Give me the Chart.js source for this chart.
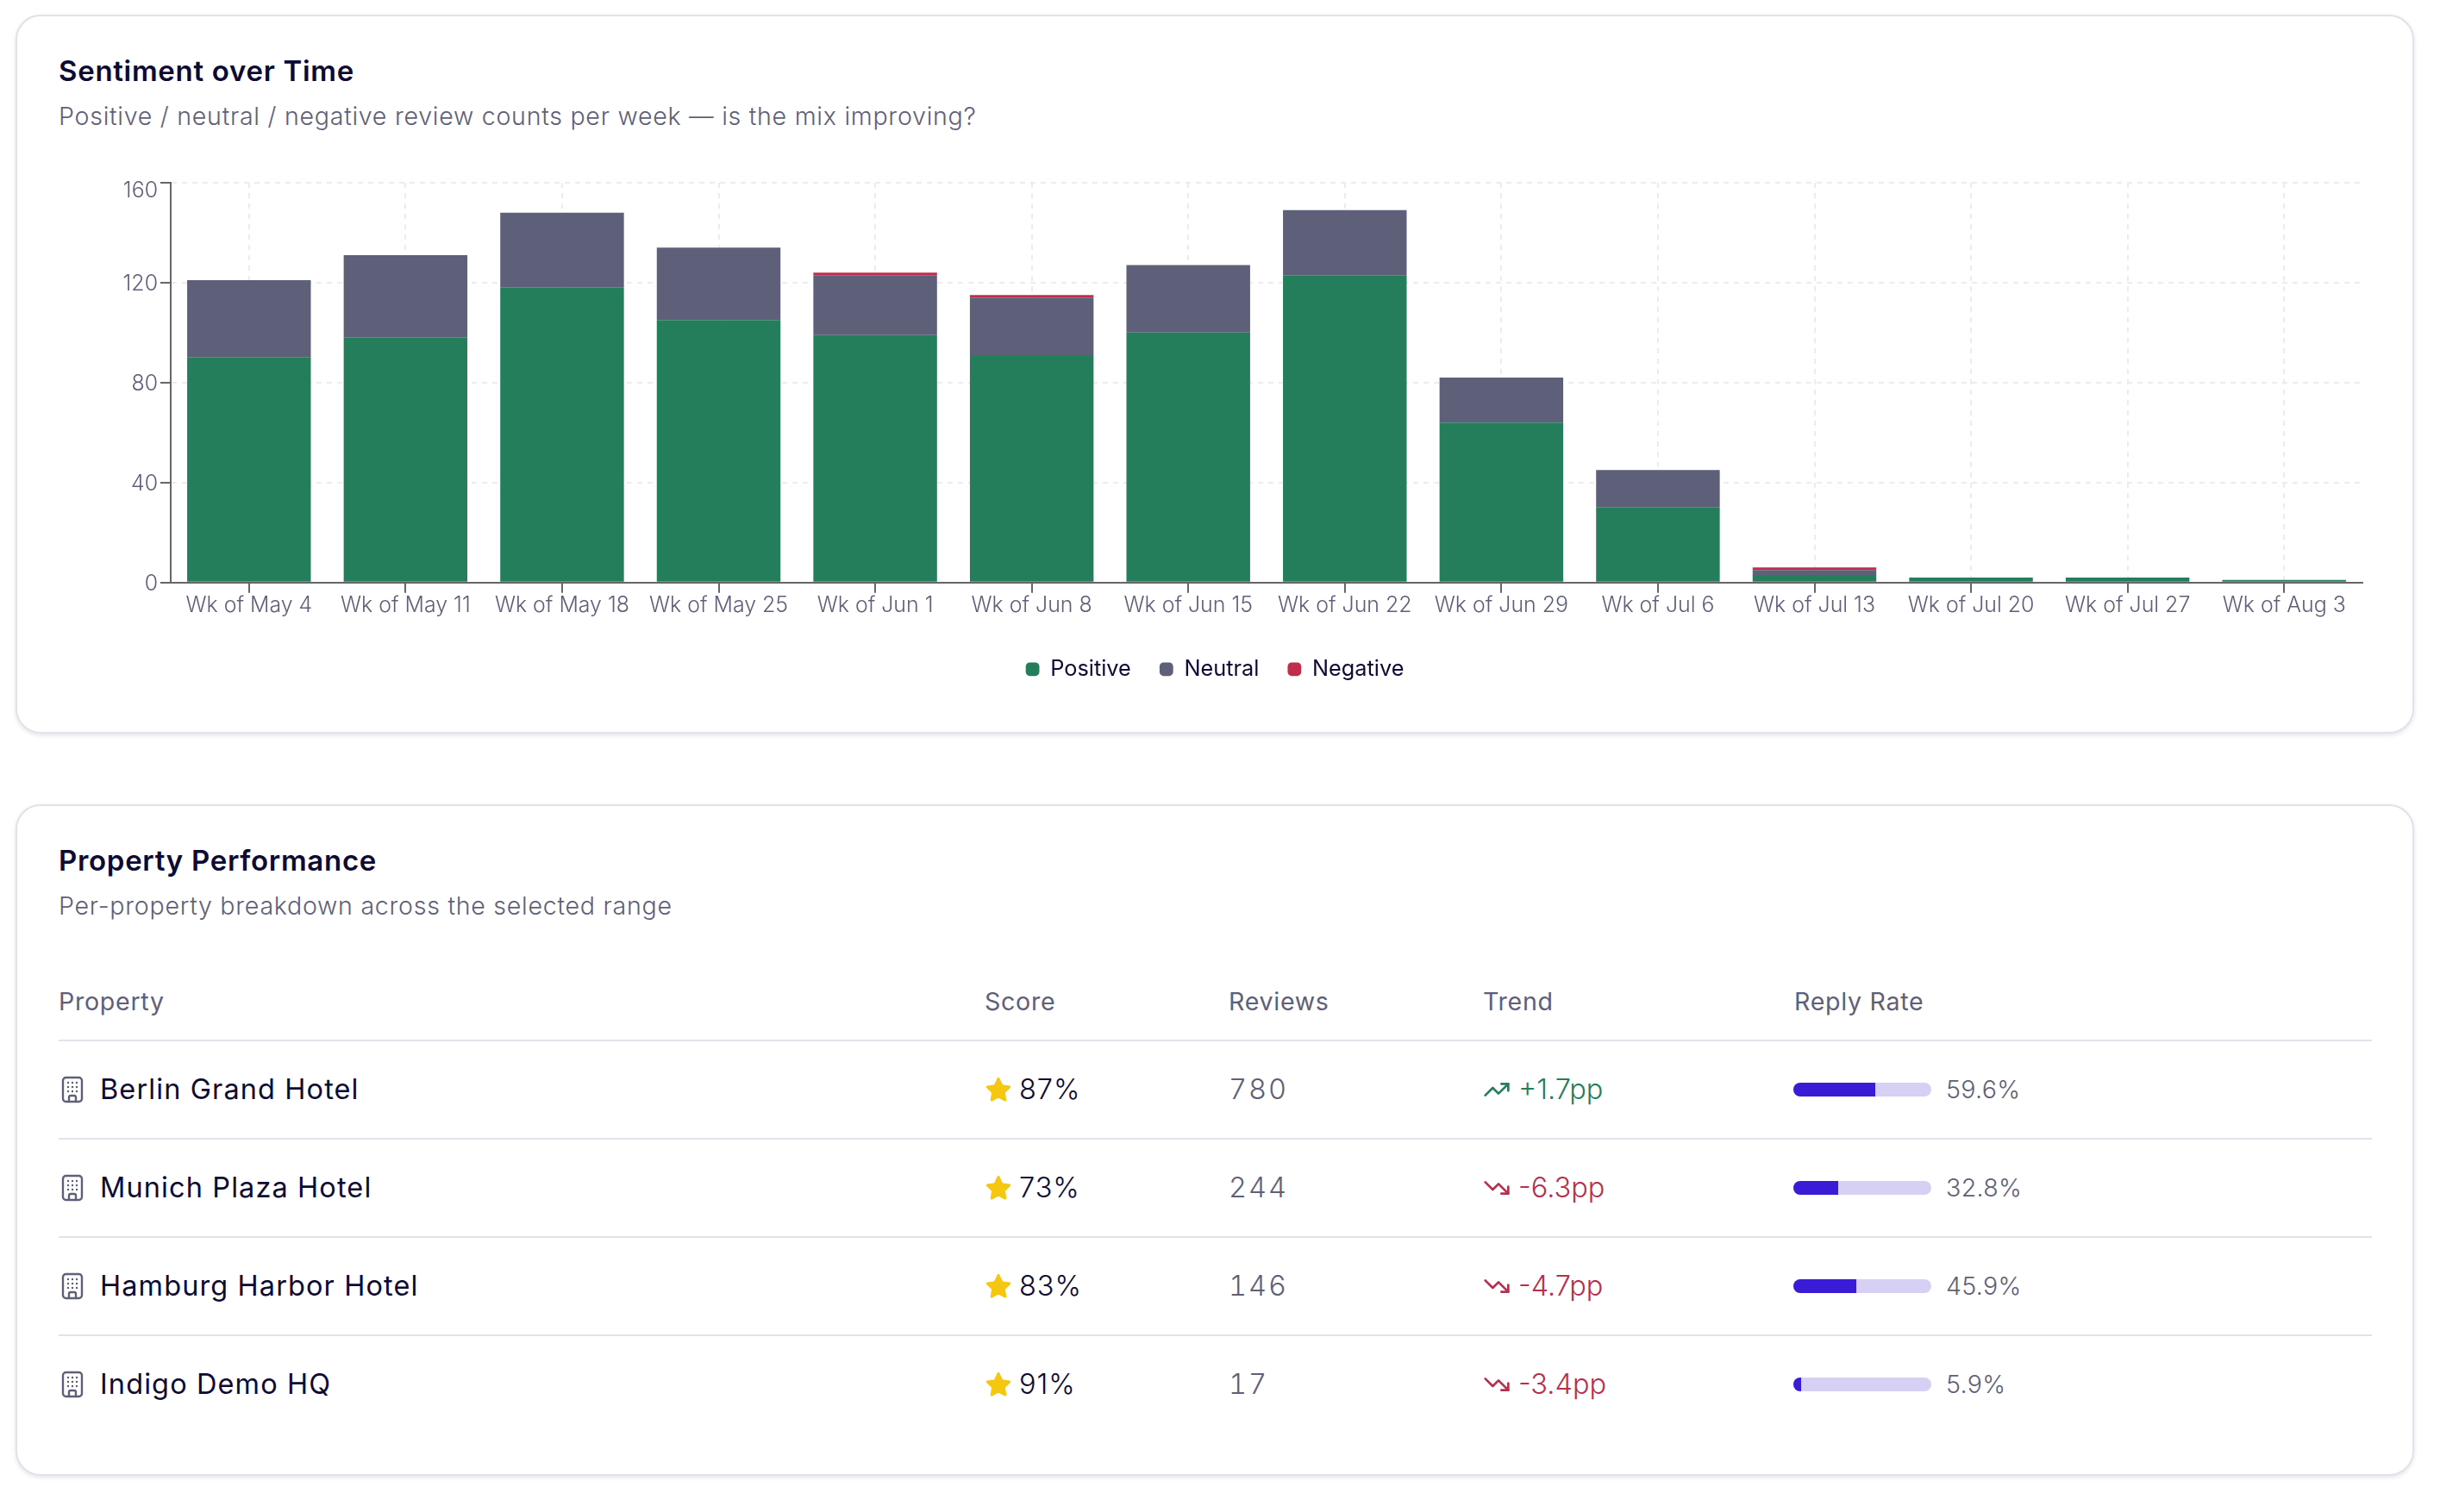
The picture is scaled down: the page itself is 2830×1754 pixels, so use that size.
<!doctype html>
<html>
<head>
<meta charset="UTF-8" />
<script src="https://cdn.jsdelivr.net/npm/chart.js"></script>
<style>
  * { box-sizing: border-box; }
  html, body { margin: 0; background: #fff; }
  body { position: relative; width: 2830px; height: 1754px; overflow: hidden; font-family: Inter, sans-serif; color: #0d0b33; }
  .card { position: absolute; left: 18px; width: 2782px; background: #fff; border: 2px solid #e3e2ea; border-radius: 29px; box-shadow: 0 2px 5px rgba(30,30,70,.12); }
  .abs { position: absolute; white-space: nowrap; line-height: 1; transform: translateY(-50%); }
  .title { left: 68px; font-size: 33px; font-weight: 600; letter-spacing: .7px; }
  .sub { left: 68px; font-size: 28.6px; font-weight: 300; color: #5e6079; letter-spacing: .72px; }
  .head { font-size: 28.6px; font-weight: 400; color: #5e6079; letter-spacing: .7px; }
  .name { font-size: 32.5px; font-weight: 400; letter-spacing: 1.1px; }
  .score { font-size: 32.5px; font-weight: 300; letter-spacing: 1px; }
  .count { font-size: 32.5px; font-weight: 300; color: #5e6079; letter-spacing: 2px; font-variant-numeric: tabular-nums; }
  .trend { font-size: 32.5px; font-weight: 300; }
  .rate { font-size: 28.6px; font-weight: 300; color: #5e6079; letter-spacing: .3px; }
  .rule { position: absolute; left: 68px; width: 2683px; height: 2px; background: #e3e2ea; }
  .track { position: absolute; left: 2080px; width: 160px; height: 16px; border-radius: 8px; background: #d6d0f5; overflow: hidden; }
  .fill { height: 100%; background: #3a1cd6; }
  svg.ico { position: absolute; }
  #chart { position: absolute; left: 68px; top: 194px; }
</style>
</head>
<body>
<div class="card" style="top:17px;height:834px"></div>
<div class="card" style="top:933px;height:779px"></div>

<div class="abs title" style="top:82px">Sentiment over Time</div>
<div class="abs sub" style="top:135px">Positive / neutral / negative review counts per week — is the mix improving?</div>
<canvas id="chart" width="2683" height="605"></canvas>

<div class="abs title" style="top:998px">Property Performance</div>
<div class="abs sub" style="top:1051px">Per-property breakdown across the selected range</div>
<div id="table"></div>

<script>
const weeks = ["Wk of May 4", "Wk of May 11", "Wk of May 18", "Wk of May 25", "Wk of Jun 1", "Wk of Jun 8", "Wk of Jun 15", "Wk of Jun 22", "Wk of Jun 29", "Wk of Jul 6", "Wk of Jul 13", "Wk of Jul 20", "Wk of Jul 27", "Wk of Aug 3"];
const positive = [90, 98, 118, 105, 99, 91, 100, 123, 64, 30, 3, 2, 2, 1];
const neutral = [31, 33, 30, 29, 24, 23, 27, 26, 18, 15, 2, 0, 0, 0];
const negative = [0, 0, 0, 0, 1, 1, 0, 0, 0, 0, 1, 0, 0, 0];
const yTicks = [0, 40, 80, 120, 160];

const properties = ["Berlin Grand Hotel", "Munich Plaza Hotel", "Hamburg Harbor Hotel", "Indigo Demo HQ"];
const scores = [87, 73, 83, 91];
const reviews = [780, 244, 146, 17];
const trends = [1.7, -6.3, -4.7, -3.4];
const replyRates = [59.6, 32.8, 45.9, 5.9];
const headers = ["Property", "Score", "Reviews", "Trend", "Reply Rate"];

const GREEN = "#257e5b", SLATE = "#5e6079", RED = "#c02d4d", INK = "#0d0b33", AXIS = "#666666", GRID = "#ececf0";
const FONT = "Inter, sans-serif";
const DASH = [6, 6];

// y labels sit a little under their ticks in the reference, the top one most
const nudgeLabels = {
    id: "nudgeLabels",
    beforeDraw(chart) {
        chart.scales.y.getLabelItems().forEach((it) => {
            if (!it.nudged) {
                it.options.translation[1] += it.label === "160" ? 10 : 2;
                it.nudged = true;
            }
        });
    },
};

new Chart(document.getElementById("chart"), {
    type: "bar",
    data: {
        labels: weeks,
        datasets: [
            { label: "Positive", data: positive, backgroundColor: GREEN, borderWidth: 0 },
            { label: "Neutral", data: neutral, backgroundColor: SLATE, borderWidth: 0 },
            { label: "Negative", data: negative, backgroundColor: RED, borderWidth: 0 },
        ],
    },
    options: {
        responsive: false,
        animation: false,
        devicePixelRatio: 1,
        layout: { padding: { top: 15, right: 11, left: 10, bottom: 0 } },
        categoryPercentage: 1,
        barPercentage: 0.79,
        plugins: {
            tooltip: { enabled: false },
            legend: {
                position: "bottom",
                labels: {
                    usePointStyle: true,
                    pointStyle: "rectRounded",
                    boxWidth: 16,
                    boxHeight: 13,
                    padding: 33,
                    color: INK,
                    font: { family: FONT, size: 25.3, weight: "400" },
                },
            },
        },
        scales: {
            x: {
                stacked: true,
                grid: { offset: false, color: GRID, lineWidth: 2, tickColor: AXIS, tickLength: 12, tickWidth: 2 },
                border: { color: AXIS, width: 2, dash: DASH },
                ticks: { color: SLATE, padding: 0, maxRotation: 0, autoSkip: false, font: { family: FONT, size: 24.9, weight: "300" } },
                afterFit: (s) => { s.height = 55; },
            },
            y: {
                stacked: true,
                min: 0,
                max: 160,
                afterBuildTicks: (s) => { s.ticks = yTicks.map((v) => ({ value: v })); },
                grid: { color: GRID, lineWidth: 2, tickColor: AXIS, tickLength: 12, tickWidth: 2 },
                border: { color: AXIS, width: 2, dash: DASH },
                ticks: { color: SLATE, padding: 3, font: { family: FONT, size: 24.9, weight: "300" } },
                afterFit: (s) => { s.width = 120; },
            },
            // only there for the dashed line along the right edge of the plot
            edge: {
                type: "linear",
                axis: "x",
                position: "top",
                min: 0,
                max: 1,
                afterBuildTicks: (s) => { s.ticks = [{ value: 1 }]; },
                grid: { color: GRID, lineWidth: 2, drawTicks: false },
                border: { display: false, dash: DASH },
                ticks: { display: false },
                afterFit: (s) => { s.height = 0; },
            },
        },
    },
    plugins: [nudgeLabels],
});

// table
const table = document.getElementById("table");
const colX = [68, 1142, 1425, 1720, 2081];
const rowY = [1264, 1378, 1492, 1606];

function add(html) {
    table.insertAdjacentHTML("beforeend", html);
}
function building(y) {
    return `<svg class="ico" style="left:70px;top:${y - 17}px" width="28" height="34" viewBox="0 0 28 34" fill="none">
        <rect x="3" y="3" width="22" height="28" rx="3.5" stroke="${SLATE}" stroke-width="2.4"/>
        <path d="M10 31v-5a2 2 0 0 1 2-2h4a2 2 0 0 1 2 2v5" stroke="${SLATE}" stroke-width="2.4"/>
        <path d="M9 9h.01M14 9h.01M19 9h.01M9 14h.01M14 14h.01M19 14h.01M9 19h.01M14 19h.01M19 19h.01" stroke="${SLATE}" stroke-width="2.4" stroke-linecap="round"/>
    </svg>`;
}
function star(y) {
    return `<svg class="ico" style="left:1141px;top:${y - 17}px" width="34" height="34" viewBox="0 0 24 24" fill="#f5c711" stroke="#f5c711" stroke-width="2" stroke-linejoin="round">
        <polygon points="12 3 14.8 8.9 21 9.8 16.5 14.3 17.6 20.6 12 17.6 6.4 20.6 7.5 14.3 3 9.8 9.2 8.9"/>
    </svg>`;
}
function trendIcon(y, up, color) {
    const pts = up
        ? '<polyline points="22 7 13.5 15.5 8.5 10.5 2 17"/><polyline points="16 7 22 7 22 13"/>'
        : '<polyline points="22 17 13.5 8.5 8.5 13.5 2 7"/><polyline points="16 17 22 17 22 11"/>';
    return `<svg class="ico" style="left:1720px;top:${y - 16}px" width="32" height="32" viewBox="0 0 24 24" fill="none" stroke="${color}" stroke-width="2" stroke-linecap="round" stroke-linejoin="round">${pts}</svg>`;
}

headers.forEach((h, i) => add(`<div class="abs head" style="left:${colX[i]}px;top:1162px">${h}</div>`));
add(`<div class="rule" style="top:1206px"></div>`);
properties.forEach((name, i) => {
    const y = rowY[i];
    const up = trends[i] > 0;
    const color = up ? GREEN : "#b5304f";
    add(building(y));
    add(`<div class="abs name" style="left:116px;top:${y}px">${name}</div>`);
    add(star(y));
    add(`<div class="abs score" style="left:1182px;top:${y}px">${scores[i]}%</div>`);
    add(`<div class="abs count" style="left:1425px;top:${y}px">${reviews[i]}</div>`);
    add(trendIcon(y, up, color));
    add(`<div class="abs trend" style="left:1761px;top:${y}px;color:${color}">${up ? "+" : ""}${trends[i]}pp</div>`);
    add(`<div class="track" style="top:${y - 8}px"><div class="fill" style="width:${replyRates[i]}%"></div></div>`);
    add(`<div class="abs rate" style="left:2257px;top:${y}px">${replyRates[i]}%</div>`);
    if (i < properties.length - 1) add(`<div class="rule" style="top:${y + 56}px"></div>`);
});
</script>
</body>
</html>
